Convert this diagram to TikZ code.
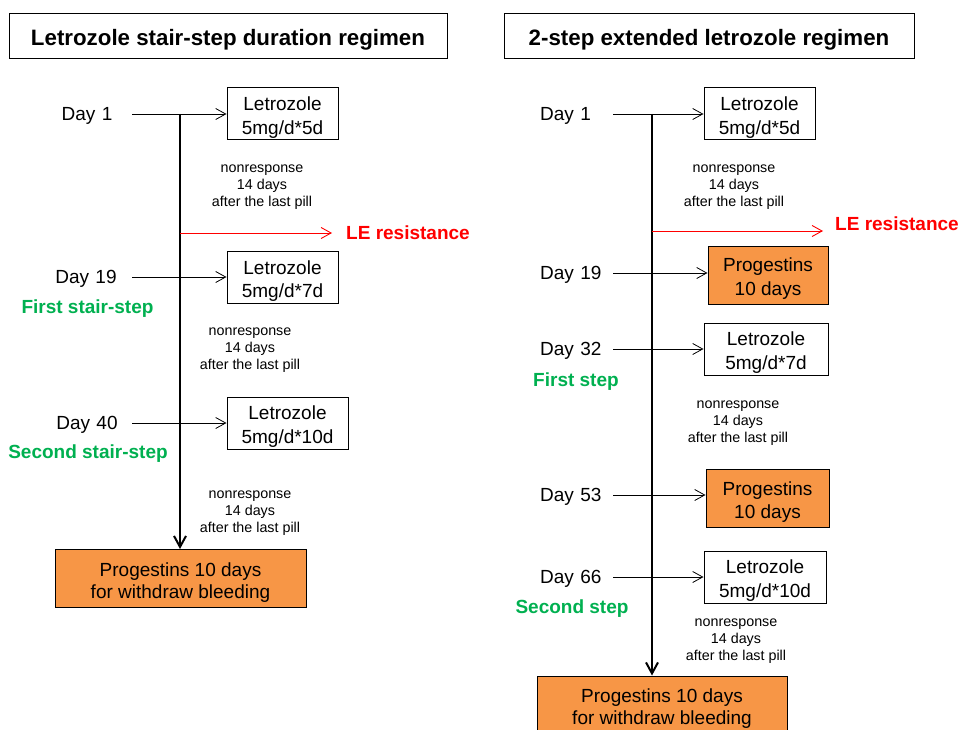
\documentclass[tikz,border=0pt]{standalone}
\usepackage{fontspec}
\setmainfont{Liberation Sans}
\usetikzlibrary{arrows.meta}
\definecolor{ProgOrange}{HTML}{F79646}
\definecolor{StepGreen}{HTML}{00B050}
\definecolor{ResRed}{HTML}{FF0000}
\newcommand{\boxstrut}{\rule{0pt}{21pt}}

\begin{document}
\begin{tikzpicture}[x=1pt,y=-1pt]
        \tikzset{
            TitleStyle/.style = {
                draw,
                line width = 0.8pt,
                inner sep = 0pt,
                minimum height = 45pt,
                execute at begin node = {\rule{0pt}{24pt}},
                font = \fontsize{22.3}{26}\selectfont\bfseries},
            DrugStyle/.style = {
                draw,
                line width = 1pt,
                align = center,
                inner sep = 0pt,
                minimum height = 52pt,
                font = \fontsize{19}{23.5}\selectfont},
            ProgStyle/.style = {DrugStyle, fill = ProgOrange, minimum height = 58pt},
            DayStyle/.style = {
                inner sep = 0pt,
                text width = 64pt,
                text depth = 0pt,
                font = \fontsize{19}{23}\selectfont},
            StepStyle/.style = {
                inner sep = 0pt,
                text = StepGreen,
                font = \fontsize{19}{23}\selectfont\bfseries},
            NoteStyle/.style = {
                inner sep = 0pt,
                align = center,
                font = \fontsize{14.3}{17}\selectfont},
            ResStyle/.style = {
                inner sep = 0pt,
                text = ResRed,
                font = \fontsize{19}{23}\selectfont\bfseries},
            FlowStyle/.style = {
                line width = 0.8pt,
                -{Straight Barb[length=10pt,width=11pt]}},
            SpineStyle/.style = {
                line width = 2pt,
                -{Straight Barb[length=11pt,width=12pt]}},
            ResArrow/.style = {
                ResRed,
                line width = 0.9pt,
                -{Straight Barb[length=10pt,width=11pt]}}
                }
        \useasboundingbox (0,0) rectangle (960,730);
    % left regimen
    \node[TitleStyle, minimum width = 438pt] (LTitle) at (228,35.5)
        {Letrozole stair-step duration regimen};
    \node[DayStyle, align = center] (LD1) at (87,114) {Day 1};
    \node[DayStyle, align = center] (LD19) at (86,277) {Day 19};
    \node[DayStyle, align = center] (LD40) at (87,423) {Day 40};
    \node[DrugStyle, minimum width = 111pt] (LB1) at (282.5,114) {\boxstrut Letrozole\\5mg/d*5d};
    \node[DrugStyle, minimum width = 111pt] (LB2) at (282.5,277.5) {\boxstrut Letrozole\\5mg/d*7d};
    \node[DrugStyle, minimum width = 121pt] (LB3) at (287.5,423) {\boxstrut Letrozole\\5mg/d*10d};
    \node[ProgStyle, minimum width = 251pt, font = \fontsize{19}{22}\selectfont] (LEnd) at (180.5,578.5)
        {\boxstrut Progestins 10 days\\for withdraw bleeding};
    \node[NoteStyle] (LN1) at (262,187) {nonresponse\\14 days\\after the last pill};
    \node[NoteStyle] (LN2) at (250,350) {nonresponse\\14 days\\after the last pill};
    \node[NoteStyle] (LN3) at (250,513) {nonresponse\\14 days\\after the last pill};
    \node[StepStyle] (LS1) at (87.5,309) {First stair-step};
    \node[StepStyle] (LS2) at (88,454) {Second stair-step};
    \node[ResStyle, anchor = west] (LRes) at (346,233) {LE resistance};
    \coordinate (LTop) at (180,114);
    \draw[SpineStyle] (LTop) -- (LTop |- LEnd.north);
    \draw[FlowStyle, shorten <= 13pt] (LD1) -- (LD1 -| LB1.west);
    \draw[FlowStyle, shorten <= 14pt] (LD19) -- (LD19 -| LB2.west);
    \draw[FlowStyle, shorten <= 13pt] (LD40) -- (LD40 -| LB3.west);
    \draw[ResArrow, shorten >= 14pt] (LTop |- LRes.west) -- (LRes.west);
    % right regimen
    \node[TitleStyle, minimum width = 410pt] (RTitle) at (709,35.5)
        {2-step extended letrozole regimen};
    \node[DayStyle, anchor = west] (RD1) at (540,114) {Day 1};
    \node[DayStyle, anchor = west] (RD19) at (540,273) {Day 19};
    \node[DayStyle, anchor = west] (RD32) at (540,349) {Day 32};
    \node[DayStyle, anchor = west] (RD53) at (540,495) {Day 53};
    \node[DayStyle, anchor = west] (RD66) at (540,577) {Day 66};
    \node[DrugStyle, minimum width = 111pt] (RB1) at (759.5,114) {\boxstrut Letrozole\\5mg/d*5d};
    \node[ProgStyle, minimum width = 120pt] (RP1) at (768,275) {\boxstrut Progestins\\10 days};
    \node[DrugStyle, minimum width = 124pt] (RB2) at (766,349) {\boxstrut Letrozole\\5mg/d*7d};
    \node[ProgStyle, minimum width = 123pt] (RP2) at (767.5,498.5) {\boxstrut Progestins\\10 days};
    \node[DrugStyle, minimum width = 122pt] (RB3) at (765,577) {\boxstrut Letrozole\\5mg/d*10d};
    \node[ProgStyle, minimum width = 250pt, font = \fontsize{19}{22}\selectfont] (REnd) at (662,705)
        {\boxstrut Progestins 10 days\\for withdraw bleeding};
    \node[NoteStyle] (RN1) at (734,187) {nonresponse\\14 days\\after the last pill};
    \node[NoteStyle] (RN2) at (738,423) {nonresponse\\14 days\\after the last pill};
    \node[NoteStyle] (RN3) at (736,641) {nonresponse\\14 days\\after the last pill};
    \node[StepStyle] (RS1) at (576,382) {First step};
    \node[StepStyle] (RS2) at (572,609) {Second step};
    \node[ResStyle, anchor = west] (RRes) at (835,224) {LE resistance};
    \coordinate (RTop) at (652,114);
    \coordinate (RResA) at (652,231);
    \draw[SpineStyle] (RTop) -- (RTop |- REnd.north);
    \draw[FlowStyle, shorten <= 9pt] (RD1) -- (RD1 -| RB1.west);
    \draw[FlowStyle, shorten <= 9pt] (RD19) -- (RD19 -| RP1.west);
    \draw[FlowStyle, shorten <= 9pt] (RD32) -- (RD32 -| RB2.west);
    \draw[FlowStyle, shorten <= 9pt] (RD53) -- (RD53 -| RP2.west);
    \draw[FlowStyle, shorten <= 9pt] (RD66) -- (RD66 -| RB3.west);
    \draw[ResArrow, shorten >= 12pt] (RResA) -- (RResA -| RRes.west);
\end{tikzpicture}
\end{document}
